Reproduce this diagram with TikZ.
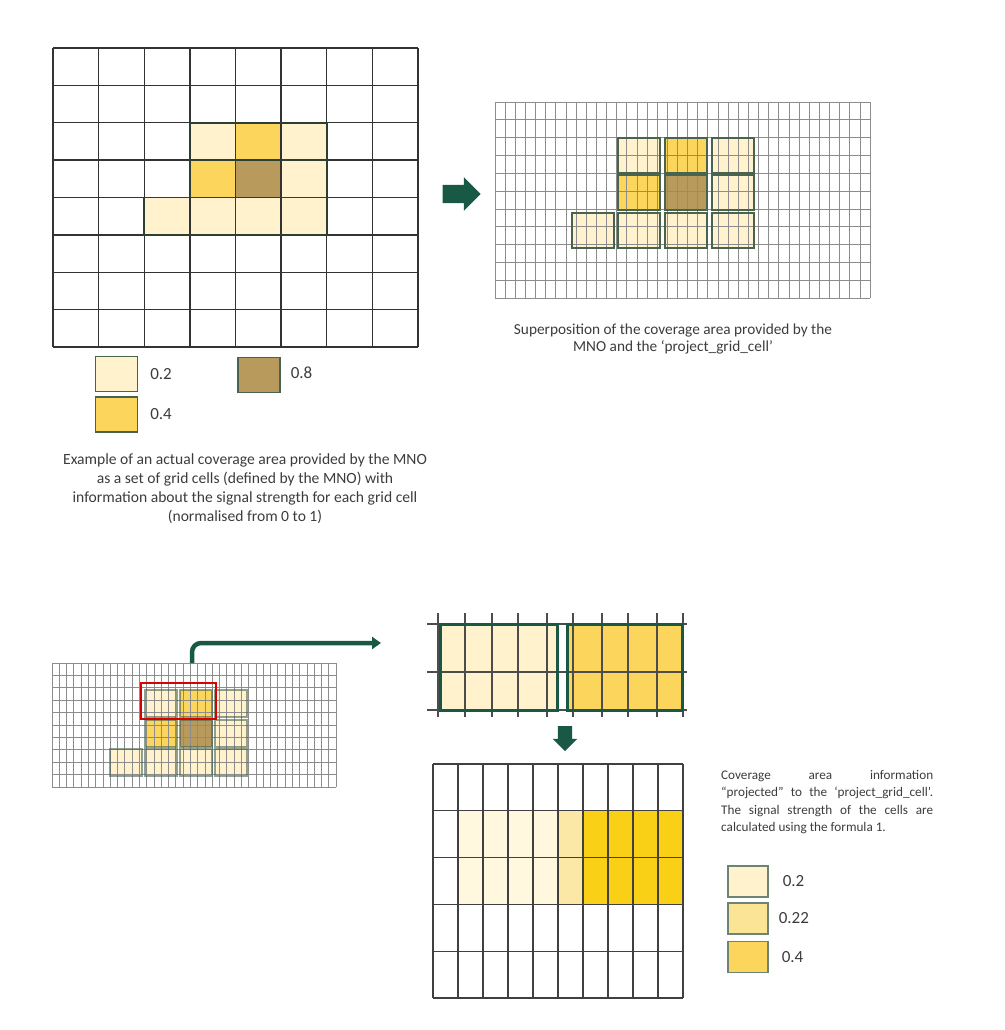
\documentclass[tikz,border=0pt]{standalone}
\usepackage{fontspec}
\setmainfont{Carlito}
\usetikzlibrary{positioning, shapes.arrows, arrows.meta}

\definecolor{sigtwo}{RGB}{255,242,204}
\definecolor{sigfour}{RGB}{252,214,92}
\definecolor{sigeight}{RGB}{184,154,92}
\definecolor{sigtt}{RGB}{252,232,166}
\definecolor{palecell}{RGB}{255,247,222}
\definecolor{goldcell}{RGB}{249,208,21}
\definecolor{cellline}{RGB}{72,100,80}
\definecolor{darkcell}{RGB}{45,62,50}
\definecolor{mnogreen}{RGB}{24,88,68}
\definecolor{txt}{RGB}{60,60,60}

\begin{document}
\begin{tikzpicture}[x=1pt, y=-1pt,
    coarse/.style={draw=black!80, line width=1.3pt},
    fine/.style={draw=black!45, line width=0.7pt},
    mnocell/.style={draw=cellline, line width=1.1pt},
    legbox/.style={draw=cellline, line width=1.2pt, inner sep=0pt, minimum width=42pt, minimum height=35pt},
    leglabel/.style={text=txt, inner sep=0pt, font=\fontsize{17}{20}\selectfont},
    caption/.style={text=txt, align=center, inner sep=0pt},
    blockarrow/.style={single arrow, fill=mnogreen, draw=none}]

    \useasboundingbox (0,0) rectangle (1004,1030);

    \foreach \c/\r/\col in {3/2/sigtwo, 4/2/sigfour, 5/2/sigtwo, 3/3/sigfour, 4/3/sigeight, 5/3/sigtwo, 2/4/sigtwo, 3/4/sigtwo, 4/4/sigtwo, 5/4/sigtwo}
        \fill[\col] (53+\c*45.625, 48+\r*37.375) rectangle ++(45.625, 37.375);
    \foreach \i in {0,...,8} {
        \draw[coarse] (53+\i*45.625, 48) -- (53+\i*45.625, 347);
        \draw[coarse] (53, 48+\i*37.375) -- (418, 48+\i*37.375);
    }
    \draw[mnocell, draw=darkcell, line width=1.8pt] (53+3*45.625, 48+2*37.375) rectangle ++(3*45.625, 2*37.375);
    \draw[mnocell, draw=darkcell, line width=1.8pt] (53+4*45.625, 48+2*37.375) -- ++(0, 3*37.375);
    \draw[mnocell, draw=darkcell, line width=1.8pt] (53+2*45.625, 48+4*37.375) rectangle (53+6*45.625, 48+5*37.375);
    \draw[mnocell, draw=darkcell, line width=1.8pt] (53+3*45.625, 48+3*37.375) -- (53+6*45.625, 48+3*37.375);

    \node[legbox, fill=sigtwo] (lgtwo) at (116.5, 374) {};
    \node[legbox, fill=sigfour] (lgfour) at (116.5, 414.5) {};
    \node[legbox, fill=sigeight] (lgeight) at (259, 375) {};
    \node[leglabel, right=12pt of lgtwo] {0.2};
    \node[leglabel, right=12pt of lgfour] {0.4};
    \node[leglabel, right=10pt of lgeight, yshift=2pt] {0.8};

    \node[caption, font=\fontsize{15.6}{19}\selectfont] (mnotext) at (245, 489) {Example of an actual coverage area provided by the MNO\\ as a set of grid cells (defined by the MNO) with\\ information about the signal strength for each grid cell\\ (normalised from 0 to 1)};

    \node[blockarrow, inner sep=9pt, minimum height=38pt, single arrow head extend=7.5pt] (toproj) at (457, 194) {};

    \foreach \bx/\by/\bc in {618/138/sigtwo, 665/138/sigfour, 712/138/sigtwo, 618/175/sigfour, 665/175/sigeight, 712/175/sigtwo, 572/213/sigtwo, 618/213/sigtwo, 665/213/sigtwo, 712/213/sigtwo}
        \fill[\bc] (\bx, \by) rectangle ++(42, 35);
    \foreach \i in {0,...,37}
        \draw[fine] (495+\i*10.135, 102) -- (495+\i*10.135, 298);
    \foreach \j in {0,...,11}
        \draw[fine] (495, 102+\j*17.82) -- (870, 102+\j*17.82);
    \foreach \bx/\by in {618/138, 665/138, 712/138, 618/175, 665/175, 712/175, 572/213, 618/213, 665/213, 712/213}
        \draw[mnocell] (\bx, \by) rectangle ++(42, 35);

    \node[caption, font=\fontsize{15.3}{17}\selectfont] (superpos) at (673, 339) {Superposition of the coverage area provided by the\\ MNO and the ‘project\_grid\_cell’};

    \foreach \bx/\by/\bc in {145/690/sigtwo, 180/690/sigfour, 215/690/sigtwo, 145/720/sigfour, 180/720/sigeight, 215/720/sigtwo, 110/749/sigtwo, 145/749/sigtwo, 180/749/sigtwo, 215/749/sigtwo}
        \fill[\bc] (\bx, \by) rectangle ++(32, 27);
    \foreach \i in {0,...,39}
        \draw[fine] (52+\i*7.282, 663) -- (52+\i*7.282, 787);
    \foreach \j in {0,...,10}
        \draw[fine] (52, 663+\j*12.4) -- (336, 663+\j*12.4);
    \foreach \bx/\by in {145/690, 180/690, 215/690, 145/720, 180/720, 215/720, 110/749, 145/749, 180/749, 215/749}
        \draw[mnocell, draw opacity=0.6] (\bx, \by) rectangle ++(32, 27);
    \draw[red!85!black, line width=1.3pt] (141, 683) rectangle (216, 719);

    \coordinate (pick) at (192, 663);
    \coordinate (zoomin) at (381, 643);
    \draw[mnogreen, line width=4.5pt, rounded corners=9pt, -{Triangle[length=9pt, width=12pt]}] (pick) -- (pick |- zoomin) -- (zoomin);

    \fill[sigtwo] (440, 624) rectangle (557, 710);
    \fill[sigfour] (567, 624) rectangle (682, 710);
    \foreach \vx in {438, 465, 492, 518, 547, 573, 602, 628, 657, 683}
        \draw[black!70, line width=1.2pt] (\vx, 613) -- (\vx, 717);
    \foreach \hy in {624, 672, 710}
        \draw[black!70, line width=1.2pt] (427, \hy) -- (687, \hy);
    \draw[mnogreen, line width=3pt] (440, 624) rectangle (557, 710);
    \draw[mnogreen, line width=3pt] (567, 624) rectangle (682, 710);

    \node[blockarrow, shape border rotate=270, inner sep=7pt, minimum height=25pt, single arrow head extend=5pt] (toresult) at (565, 735) {};

    \fill[palecell] (458, 811) rectangle (558, 904);
    \fill[sigtt] (558, 811) rectangle (583, 904);
    \fill[goldcell] (583, 811) rectangle (683, 904);
    \foreach \i in {0,...,10}
        \draw[black!75, line width=1.2pt] (433+\i*25, 764) -- (433+\i*25, 998);
    \foreach \j in {0,...,5}
        \draw[black!75, line width=1.2pt] (433, 764+\j*46.8) -- (683, 764+\j*46.8);

    \node[anchor=north west, inner sep=0pt, text=txt, align=left, font=\fontsize{13.2}{17.5}\selectfont] (projtext) at (721, 770) {\makebox[212pt][s]{Coverage area information}\\ \makebox[212pt][s]{“projected” to the ‘project\_grid\_cell’.}\\ \makebox[212pt][s]{The signal strength of the cells are}\\ calculated using the formula 1.};

    \node[legbox, draw=cellline!80, minimum width=40pt, minimum height=31pt, fill=sigtwo] (lbtwo) at (748, 881.5) {};
    \node[legbox, draw=cellline!80, minimum width=40pt, minimum height=31pt, fill=sigtt!80!sigfour] (lbtt) at (748, 918.5) {};
    \node[legbox, draw=cellline!80, minimum width=40pt, minimum height=31pt, fill=sigfour] (lbfour) at (748, 957) {};
    \node[leglabel, right=14pt of lbtwo] {0.2};
    \node[leglabel, right=10pt of lbtt] {0.22};
    \node[leglabel, right=13pt of lbfour] {0.4};
\end{tikzpicture}
\end{document}
